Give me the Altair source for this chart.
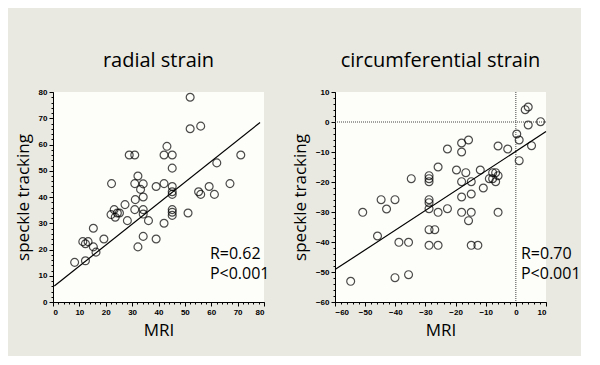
import altair as alt
import pandas as pd

# ---- radial strain (MRI vs speckle tracking) ----
rad_mri = [8.2, 11.3, 12.3, 13.3, 12.3, 15.3, 15.3, 16.3, 19.3, 22.2, 22.0, 23.2, 23.6, 24.4, 25.2,
           27.3, 28.2, 28.9, 31.0, 31.0, 31.2, 31.0, 32.2, 33.2, 34.2, 34.2, 34.2, 34.2, 32.2, 34.2,
           36.2, 39.1, 39.1, 42.1, 43.2, 42.1, 42.1, 45.2, 45.2, 45.2, 45.2, 45.2, 45.2, 45.2, 45.2,
           51.2, 52.0, 52.0, 56.0, 55.2, 56.0, 59.2, 61.2, 62.1, 67.1, 71.2]
rad_st = [15.1, 23.0, 22.2, 23.0, 15.7, 28.1, 21.0, 19.0, 24.0, 45.1, 33.3, 35.2, 32.3, 33.9, 33.9,
          37.1, 31.0, 56.0, 56.0, 45.1, 39.0, 35.2, 48.0, 42.9, 45.0, 40.0, 35.2, 33.5, 21.0, 25.0,
          31.0, 44.0, 24.0, 56.0, 59.3, 45.1, 30.0, 56.0, 51.0, 44.0, 42.0, 41.0, 35.2, 34.2, 33.0,
          33.9, 78.0, 66.0, 67.0, 42.0, 41.0, 44.0, 41.0, 53.0, 45.1, 56.0]
rad_line_x = [0.5, 78.5]
rad_line_y = [6.1, 68.4]
rad_ann_x = [59.5, 59.5]
rad_ann_y = [18.3, 10.7]
rad_ann_text = ["R=0.62", "P<0.001"]

# ---- circumferential strain ----
circ_mri = [-54.8, -50.8, -45.9, -44.7, -42.9, -40.1, -40.1, -38.8, -35.6, -35.6, -34.7,
            -28.8, -28.8, -28.8, -28.8, -28.8, -28.8, -28.8, -26.9, -28.8, -25.8, -25.8, -25.8,
            -22.7, -22.7, -19.7, -18.0, -18.0, -18.0, -18.0, -18.0, -16.6, -15.7, -15.7, -14.8,
            -14.8, -14.8, -14.8, -12.6, -11.8, -10.8, -8.8, -7.7, -7.7, -6.7, -6.7, -5.9, -5.9,
            -5.9, -2.7, 0.3, 1.1, 1.1, 3.1, 4.1, 4.1, 5.2, 8.2]
circ_st = [-53.1, -30.1, -38.0, -25.9, -29.0, -25.9, -51.9, -40.1, -40.1, -50.9, -18.9,
           -17.9, -18.9, -19.9, -25.9, -26.9, -28.9, -35.9, -35.9, -41.1, -15.0, -30.1, -41.1,
           -9.0, -28.9, -16.0, -7.0, -10.0, -19.9, -25.0, -30.1, -16.9, -6.0, -32.9, -19.9,
           -24.0, -30.1, -41.1, -41.1, -16.0, -22.0, -18.9, -18.9, -16.9, -16.9, -19.9, -17.9,
           -8.0, -30.1, -9.0, -4.0, -6.0, -12.9, 4.1, 5.0, -1.0, -7.9, 0.1]
circ_line_x = [-60, 10]
circ_line_y = [-49.2, -3.2]
circ_ann_x = [1.7, 1.7]
circ_ann_y = [-44.0, -50.7]
circ_ann_text = ["R=0.70", "P<0.001"]
circ_ref_zero = [0]

BG = "#e9e9e1"
TXT_FONT = "Open Sans"
LBL_FONT = "Liberation Sans"


def panel(mri, st, lx, ly, ax, ay, atext, xdom, ydom, title, zero_lines=False):
    pts = pd.DataFrame({"MRI": mri, "ST": st})
    line = pd.DataFrame({"MRI": lx, "ST": ly})
    ann = pd.DataFrame({"MRI": ax, "ST": ay, "t": atext})
    xs = alt.Scale(domain=xdom, nice=False, zero=False)
    ys = alt.Scale(domain=ydom, nice=False, zero=False)
    major_x = list(range(xdom[0], xdom[1] + 1, 10))
    major_y = list(range(ydom[0], ydom[1] + 1, 10))
    minor_x = list(range(xdom[0], xdom[1] + 1, 2))
    minor_y = list(range(ydom[0], ydom[1] + 1, 2))

    x_axis = alt.Axis(values=major_x, title="MRI", orient="bottom", tickSize=4, grid=False,
                      labelFont=LBL_FONT, labelFontWeight="bold", labelFontSize=8,
                      labelColor="black", titleFont=TXT_FONT, titleFontSize=17,
                      titleFontWeight="normal", titleColor="black", titlePadding=6,
                      domainColor="black", tickColor="black", labelPadding=2)
    y_axis = alt.Axis(values=major_y, title="speckle tracking", orient="left", tickSize=4,
                      grid=False, labelFont=LBL_FONT, labelFontWeight="bold", labelFontSize=8,
                      labelColor="black", titleFont=TXT_FONT, titleFontSize=17,
                      titleFontWeight="normal", titleColor="black", titlePadding=6,
                      domainColor="black", tickColor="black", labelPadding=2)
    x_minor = alt.Axis(values=minor_x, title=None, orient="bottom", tickSize=2, labels=False,
                       grid=False, domain=False, tickColor="black")
    y_minor = alt.Axis(values=minor_y, title=None, orient="left", tickSize=2, labels=False,
                       grid=False, domain=False, tickColor="black")

    minor = alt.Chart(line).mark_line(opacity=0).encode(
        x=alt.X("MRI:Q", scale=xs, axis=x_minor),
        y=alt.Y("ST:Q", scale=ys, axis=y_minor),
    )
    points = alt.Chart(pts).mark_point(shape="circle", filled=False, color="black",
                                       size=62, strokeWidth=1.2).encode(
        x=alt.X("MRI:Q", scale=xs, axis=x_axis),
        y=alt.Y("ST:Q", scale=ys, axis=y_axis),
    )
    reg = alt.Chart(line).mark_line(color="black", strokeWidth=1.2).encode(
        x=alt.X("MRI:Q", scale=xs, axis=None), y=alt.Y("ST:Q", scale=ys, axis=None)
    )
    txt = alt.Chart(ann).mark_text(align="left", baseline="middle", font=TXT_FONT,
                                   fontSize=16, color="black", clip=False).encode(
        x=alt.X("MRI:Q", scale=xs, axis=None), y=alt.Y("ST:Q", scale=ys, axis=None), text="t:N"
    )
    layers = [points, minor]
    if zero_lines:
        z = pd.DataFrame({"v": circ_ref_zero})
        vline = alt.Chart(z).mark_rule(color="#444444", strokeWidth=1, strokeDash=[1, 1]).encode(
            x=alt.X("v:Q", scale=xs, axis=None))
        hline = alt.Chart(z).mark_rule(color="#444444", strokeWidth=1, strokeDash=[1, 1]).encode(
            y=alt.Y("v:Q", scale=ys, axis=None))
        layers += [vline, hline]
    layers += [reg, txt]
    return alt.layer(*layers).resolve_axis(x="independent", y="independent").properties(
        width=211, height=210,
        title=alt.TitleParams(title, font=TXT_FONT, fontSize=20, fontWeight="normal",
                              color="black", offset=17, anchor="middle"),
    )


left = panel(rad_mri, rad_st, rad_line_x, rad_line_y, rad_ann_x, rad_ann_y, rad_ann_text,
             [0, 80], [0, 80], "radial strain")
right = panel(circ_mri, circ_st, circ_line_x, circ_line_y, circ_ann_x, circ_ann_y, circ_ann_text,
              [-60, 10], [-60, 10], "circumferential strain", zero_lines=True)

chart = alt.hconcat(left, right, spacing=21).properties(
    background=BG,
    padding={"left": 6, "top": 43, "right": 0, "bottom": 18},
).configure_view(fill="#fdfdfa", strokeWidth=0)

chart.save("out.html", embed_options={"renderer": "svg", "actions": False})
